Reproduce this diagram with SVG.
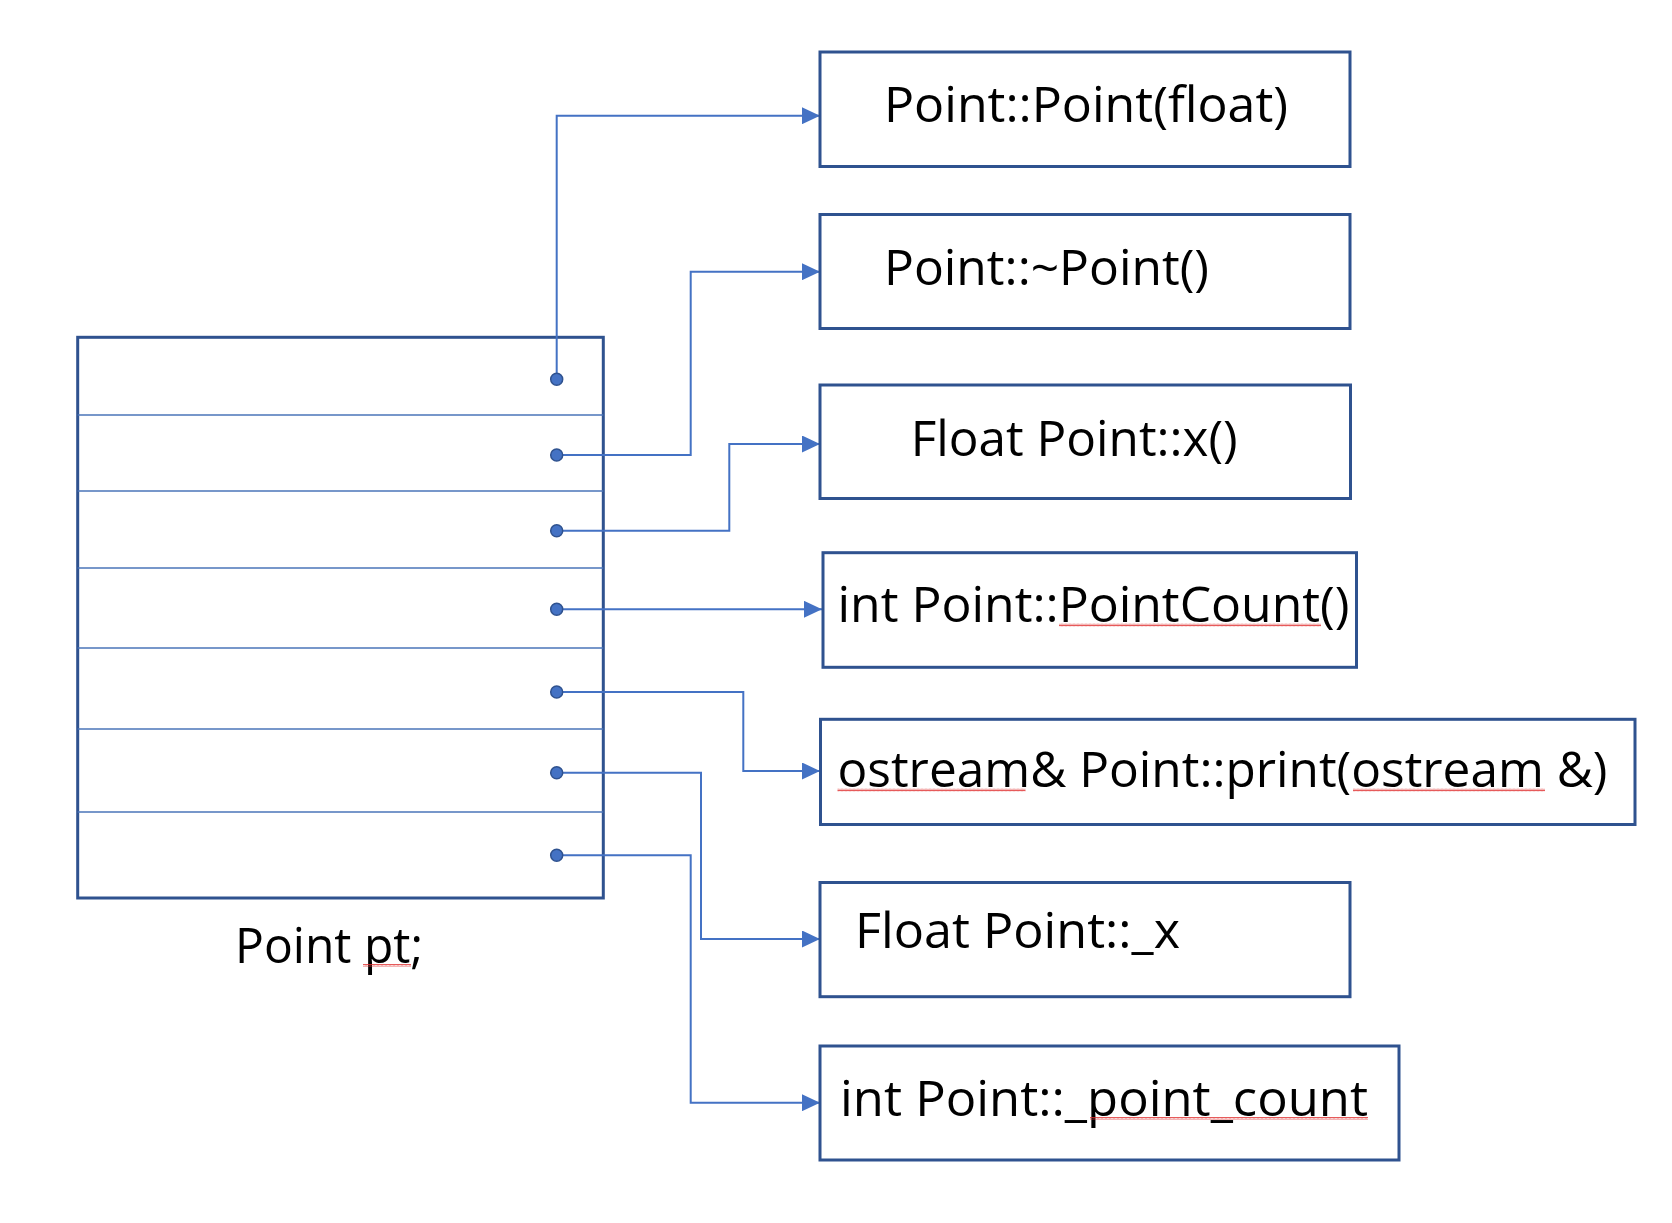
<svg xmlns="http://www.w3.org/2000/svg" width="1672" height="1223" viewBox="0 0 1672 1223">
<style>
.box{fill:#ffffff;stroke:#2f528f;stroke-width:3}
.div{stroke:#4a74b8;stroke-width:1.6;fill:none}
.conn{fill:none;stroke:#4472c4;stroke-width:2;marker-end:url(#arrow)}
.dot{fill:#4472c4;stroke:#2f528f;stroke-width:1.5}
.lbl{font-family:"Open Sans","Liberation Sans",sans-serif;font-size:49px;fill:#000000}
.sq{fill:url(#squig)}
</style>
<defs>
<marker id="arrow" markerUnits="userSpaceOnUse" markerWidth="18" markerHeight="17" refX="18" refY="8.5" orient="auto">
<path d="M0,0 L18,8.5 L0,17 z" fill="#4472c4"/>
</marker>
<pattern id="squig" patternUnits="userSpaceOnUse" width="4" height="3">
<path d="M0,2.5 L1,0.5 L2,2.5 L3,0.5 L4,2.5" fill="none" stroke="#e03030" stroke-width="0.8"/>
</pattern>
</defs>
<rect x="0" y="0" width="1672" height="1223" fill="#ffffff"/>

<g id="object-pt">
<rect class="box" x="77.7" y="337.3" width="525.6" height="560.7"/>
<line class="div" x1="77.7" y1="415" x2="603.3" y2="415"/>
<line class="div" x1="77.7" y1="491" x2="603.3" y2="491"/>
<line class="div" x1="77.7" y1="568" x2="603.3" y2="568"/>
<line class="div" x1="77.7" y1="648" x2="603.3" y2="648"/>
<line class="div" x1="77.7" y1="729" x2="603.3" y2="729"/>
<line class="div" x1="77.7" y1="812" x2="603.3" y2="812"/>
<text class="lbl" x="235" y="963" textLength="188" lengthAdjust="spacingAndGlyphs">Point pt;</text>
<rect class="sq" x="363" y="964" width="48" height="3"/>
</g>

<g id="connectors">
<path class="conn" d="M556.7,379.3 V115.7 H820"/>
<path class="conn" d="M556.7,455 H690.7 V271.7 H820"/>
<path class="conn" d="M556.7,530.7 H729.3 V444 H820"/>
<path class="conn" d="M556.7,609.3 H822"/>
<path class="conn" d="M556.7,692 H743.3 V771 H820"/>
<path class="conn" d="M556.7,772.7 H701 V939 H820"/>
<path class="conn" d="M556.7,855.3 H690.7 V1102.7 H820"/>
</g>

<g id="slots">
<circle class="dot" cx="556.7" cy="379.3" r="6"/>
<circle class="dot" cx="556.7" cy="455" r="6"/>
<circle class="dot" cx="556.7" cy="530.7" r="6"/>
<circle class="dot" cx="556.7" cy="609.3" r="6"/>
<circle class="dot" cx="556.7" cy="692" r="6"/>
<circle class="dot" cx="556.7" cy="772.7" r="6"/>
<circle class="dot" cx="556.7" cy="855.3" r="6"/>
</g>

<g id="ctor">
<rect class="box" x="820" y="52" width="530" height="114.5"/>
<text class="lbl" x="884" y="122" textLength="404" lengthAdjust="spacingAndGlyphs">Point::Point(float)</text>
</g>
<g id="dtor">
<rect class="box" x="820" y="214.5" width="530" height="114"/>
<text class="lbl" x="884" y="285" textLength="325" lengthAdjust="spacingAndGlyphs">Point::~Point()</text>
</g>
<g id="getx">
<rect class="box" x="820" y="385" width="530.5" height="113.5"/>
<text class="lbl" x="910.7" y="456" textLength="327" lengthAdjust="spacingAndGlyphs">Float Point::x()</text>
</g>
<g id="pointcount">
<rect class="box" x="823" y="552.7" width="533.5" height="114.6"/>
<text class="lbl" x="837.5" y="622" textLength="512" lengthAdjust="spacingAndGlyphs">int Point::PointCount()</text>
<rect class="sq" x="1059" y="623.5" width="262" height="3"/>
</g>
<g id="print">
<rect class="box" x="820.5" y="719.3" width="814.5" height="105.2"/>
<text class="lbl" x="837.5" y="787" textLength="770" lengthAdjust="spacingAndGlyphs">ostream&amp; Point::print(ostream &amp;)</text>
<rect class="sq" x="837.5" y="788.5" width="188" height="3"/>
<rect class="sq" x="1353" y="788.5" width="192" height="3"/>
</g>
<g id="member-x">
<rect class="box" x="820" y="882.5" width="530" height="114.2"/>
<text class="lbl" x="855" y="948" textLength="325" lengthAdjust="spacingAndGlyphs">Float Point::_x</text>
</g>
<g id="member-point-count">
<rect class="box" x="820" y="1046" width="579" height="114"/>
<text class="lbl" x="840" y="1116" textLength="528" lengthAdjust="spacingAndGlyphs">int Point::_point_count</text>
<rect class="sq" x="1090" y="1117" width="278" height="3"/>
</g>
</svg>
